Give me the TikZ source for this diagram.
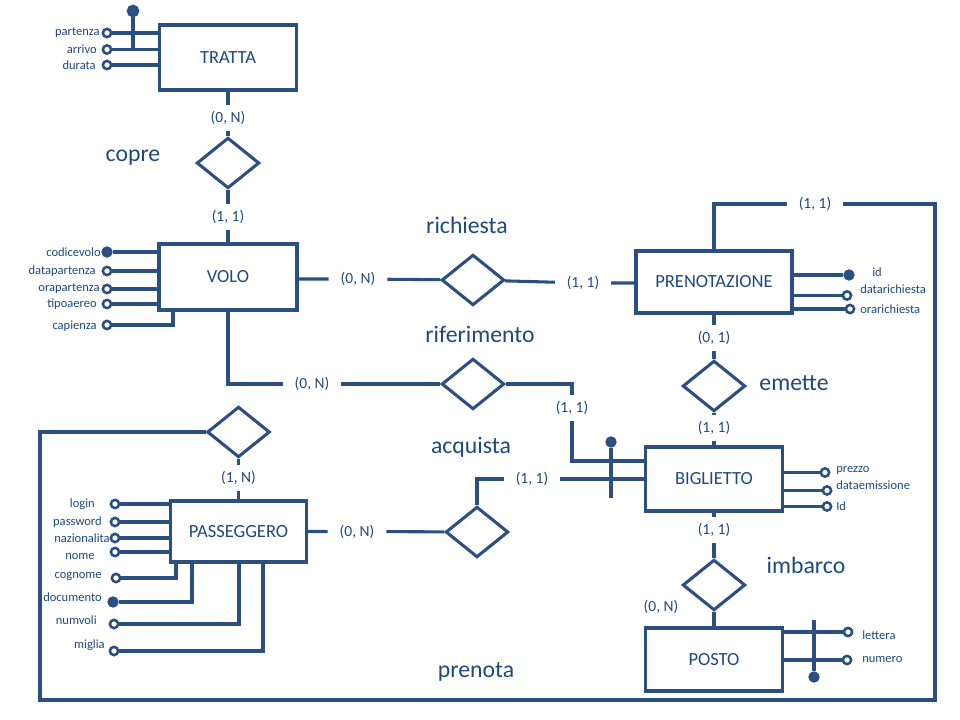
\documentclass[tikz,border=0pt]{standalone}
\usepackage{fontspec}
\setmainfont{Carlito}
\usetikzlibrary{shapes.geometric}
\definecolor{lc}{RGB}{44,79,130}
\definecolor{tc}{RGB}{31,73,125}

\begin{document}
\begin{tikzpicture}[x=0.75pt,y=-0.75pt,
  ent/.style={rectangle, draw=lc, fill=white, line width=2.3pt, inner sep=0pt,
    text=tc, font=\fontsize{13.9}{16}\selectfont},
  rel/.style={diamond, draw=lc, fill=white, line width=2.3pt, inner sep=0pt,
    minimum width=47pt, minimum height=38pt},
  card/.style={text=tc, font=\fontsize{11.6}{13}\selectfont,
    inner xsep=9pt, inner ysep=5pt, outer sep=0pt},
  rname/.style={text=tc, font=\fontsize{17.8}{20}\selectfont, inner sep=0pt},
  attr/.style={text=tc, font=\fontsize{9.4}{11}\selectfont, inner sep=0pt},
  opt/.style={circle, draw=lc, fill=white, line width=1.9pt, minimum size=6.2pt, inner sep=0pt},
  key/.style={circle, draw=lc, fill=lc, line width=1pt, minimum size=7.5pt, inner sep=0pt},
  conn/.style={draw=lc, line width=2.3pt}
]
\path[use as bounding box, fill=white] (0,0) rectangle (960,720);

% ---------- entities ----------
\node[ent, minimum width=102.75pt, minimum height=48.75pt] (tratta) at (228,57.5) {TRATTA};
\node[ent, minimum width=103.5pt, minimum height=49.5pt] (volo) at (228,277) {VOLO};
\node[ent, minimum width=117pt, minimum height=46.5pt] (pren) at (714,282) {PRENOTAZIONE};
\node[ent, minimum width=102.75pt, minimum height=48pt] (big) at (714,479) {BIGLIETTO};
\node[ent, minimum width=102pt, minimum height=45.75pt] (pass) at (238.5,531.5) {PASSEGGERO};
\node[ent, minimum width=102.75pt, minimum height=47.25pt] (posto) at (714,659.5) {POSTO};

% ---------- relationships ----------
\node[rel] (copre) at (228,163) {};
\node[rel] (richiesta) at (473,280) {};
\node[rel] (riferimento) at (473,384) {};
\node[rel] (emette) at (714,386) {};
\node[rel] (prenota) at (238.5,432) {};
\node[rel] (acquista) at (477,532) {};
\node[rel] (imbarco) at (714,585) {};

\node[rname] (n_copre) at (133,158) {copre};
\node[rname] (n_richiesta) at (467,225) {richiesta};
\node[rname] (n_riferimento) at (480,334) {riferimento};
\node[rname] (n_emette) at (794,383) {emette};
\node[rname] (n_acquista) at (471,447) {acquista};
\node[rname] (n_imbarco) at (806,565) {imbarco};
\node[rname] (n_prenota) at (476,672) {prenota};

% ---------- cardinalities ----------
\node[card] (c_tc) at (228,118) {(0, N)};
\node[card] (c_cv) at (228,217) {(1, 1)};
\node[card] (c_vr) at (358,279) {(0, N)};
\node[card] (c_rp) at (583,283) {(1, 1)};
\node[card] (c_vf) at (312,384) {(0, N)};
\node[card] (c_rb) at (572,408) {(1, 1)};
\node[card] (c_pe) at (714,338) {(0, 1)};
\node[card] (c_eb) at (714,428) {(1, 1)};
\node[card] (c_pp) at (815,204) {(1, 1)};
\node[card] (c_pn) at (238.5,478) {(1, N)};
\node[card] (c_pa) at (357,531.5) {(0, N)};
\node[card] (c_ab) at (532,479) {(1, 1)};
\node[card] (c_bi) at (714,530) {(1, 1)};
\node[card] (c_ip) at (661,607) {(0, N)};

% ---------- connectors ----------
\draw[conn] (tratta) -- (c_tc) -- (copre) -- (c_cv) -- (volo);
\draw[conn] (volo.east |- c_vr) -- (c_vr) -- (richiesta) -- (c_rp) -- (pren.west |- c_rp);
\draw[conn] (volo.south) |- (c_vf);
\draw[conn] (c_vf) -- (riferimento);
\draw[conn] (riferimento) -| (c_rb);
\coordinate (bigL) at (646,461);
\draw[conn] (c_rb) |- (bigL);
\draw[conn] (pren) -- (c_pe) -- (emette) -- (c_eb) -- (big);
\draw[conn] (pren.north) |- (c_pp);
\coordinate (loopBR) at (935,700);
\coordinate (loopBL) at (40,700);
\draw[conn] (c_pp) -| (loopBR) -- (loopBL) |- (prenota);
\draw[conn] (prenota) -- (c_pn) -- (pass);
\draw[conn] (pass) -- (c_pa) -- (acquista);
\draw[conn] (acquista.north) |- (c_ab);
\draw[conn] (c_ab) -- (big.west);
\draw[conn] (big) -- (c_bi) -- (imbarco) -- (posto);

% ---------- TRATTA attributes ----------
\node[opt] (a_part) at (107,33) {};
\node[opt] (a_arr) at (107,49.5) {};
\node[opt] (a_dur) at (107,65) {};
\node[attr, anchor=east] (l_part) at (100,33) {partenza};
\node[attr, anchor=east] (l_arr) at (97,49) {arrivo};
\node[attr, anchor=east] (l_dur) at (96,65) {durata};
\draw[conn] (a_part) -- (tratta.west |- a_part);
\draw[conn] (a_arr) -- (tratta.west |- a_arr);
\draw[conn] (a_dur) -- (tratta.west |- a_dur);
\node[key, minimum size=8.5pt] (tid) at (133,11) {};
\draw[conn] (tid) -- (tid |- a_arr);

% ---------- VOLO attributes ----------
\node[key] (a_cod) at (107,252) {};
\node[opt] (a_dpar) at (107,271) {};
\node[opt] (a_opar) at (107,289) {};
\node[opt] (a_tipo) at (107,304) {};
\node[opt] (a_cap) at (107,325) {};
\node[attr, anchor=east] (l_cod) at (101,252) {codicevolo};
\node[attr, anchor=east] (l_dpar) at (96,271) {datapartenza};
\node[attr, anchor=east] (l_opar) at (100,289) {orapartenza};
\node[attr, anchor=east] (l_tipo) at (97,304) {tipoaereo};
\node[attr, anchor=east] (l_cap) at (97,326) {capienza};
\draw[conn] (a_cod) -- (volo.west |- a_cod);
\draw[conn] (a_dpar) -- (volo.west |- a_dpar);
\draw[conn] (a_opar) -- (volo.west |- a_opar);
\draw[conn] (a_tipo) -- (volo.west |- a_tipo);
\coordinate (capT) at (173,310);
\draw[conn] (a_cap) -| (capT);

% ---------- PRENOTAZIONE attributes ----------
\node[key] (a_id) at (849,275) {};
\node[opt] (a_drich) at (847,295.5) {};
\node[opt] (a_orich) at (850,309) {};
\node[attr, anchor=west] (l_id) at (872,272) {id};
\node[attr, anchor=west] (l_drich) at (860,289) {datarichiesta};
\node[attr, anchor=west] (l_orich) at (860,309) {orarichiesta};
\draw[conn] (a_id) -- (pren.east |- a_id);
\draw[conn] (a_drich) -- (pren.east |- a_drich);
\draw[conn] (a_orich) -- (pren.east |- a_orich);

% ---------- BIGLIETTO attributes ----------
\node[opt] (a_prezzo) at (825,472.5) {};
\node[opt] (a_demis) at (827,490.5) {};
\node[opt] (a_bid) at (827,506.5) {};
\node[attr, anchor=west] (l_prezzo) at (836,470) {prezzo};
\node[attr, anchor=west] (l_demis) at (836,485) {dataemissione};
\node[attr, anchor=west] (l_bid) at (836,506) {Id};
\draw[conn] (a_prezzo) -- (big.east |- a_prezzo);
\draw[conn] (a_demis) -- (big.east |- a_demis);
\draw[conn] (a_bid) -- (big.east |- a_bid);
\node[key] (bid) at (611,442) {};
\coordinate (bidB) at (611,498);
\draw[conn] (bid) -- (bidB);

% ---------- PASSEGGERO attributes ----------
\node[opt] (a_login) at (115,504) {};
\node[opt] (a_pwd) at (115,522) {};
\node[opt] (a_naz) at (115,538) {};
\node[opt] (a_nome) at (115,552) {};
\node[opt] (a_cogn) at (116,578) {};
\node[key] (a_doc) at (113,602) {};
\node[opt] (a_nvoli) at (114,624) {};
\node[opt] (a_miglia) at (114,651) {};
\node[attr, anchor=east] (l_login) at (95,504) {login};
\node[attr, anchor=east] (l_pwd) at (102,522) {password};
\node[attr, anchor=east] (l_naz) at (110,538) {nazionalita};
\node[attr, anchor=east] (l_nome) at (95,557) {nome};
\node[attr, anchor=east] (l_cogn) at (102,577) {cognome};
\node[attr, anchor=east] (l_doc) at (102,597) {documento};
\node[attr, anchor=east] (l_nvoli) at (97,620) {numvoli};
\node[attr, anchor=east] (l_miglia) at (105,645) {miglia};
\draw[conn] (a_login) -- (pass.west |- a_login);
\draw[conn] (a_pwd) -- (pass.west |- a_pwd);
\draw[conn] (a_naz) -- (pass.west |- a_naz);
\draw[conn] (a_nome) -- (pass.west |- a_nome);
\coordinate (pcogn) at (176,562);
\coordinate (pdoc) at (192,562);
\coordinate (pnvoli) at (239,562);
\coordinate (pmiglia) at (263,562);
\draw[conn] (a_cogn) -| (pcogn);
\draw[conn] (a_doc) -| (pdoc);
\draw[conn] (a_nvoli) -| (pnvoli);
\draw[conn] (a_miglia) -| (pmiglia);

% ---------- POSTO attributes ----------
\node[opt] (a_lett) at (848,632) {};
\node[opt] (a_num) at (847,660) {};
\node[attr, anchor=west] (l_lett) at (862,635) {lettera};
\node[attr, anchor=west] (l_num) at (862,659) {numero};
\draw[conn] (a_lett) -- (posto.east |- a_lett);
\draw[conn] (a_num) -- (posto.east |- a_num);
\node[key] (pid) at (814,677) {};
\coordinate (pidT) at (814,620);
\draw[conn] (pidT) -- (pid);
\end{tikzpicture}
\end{document}
